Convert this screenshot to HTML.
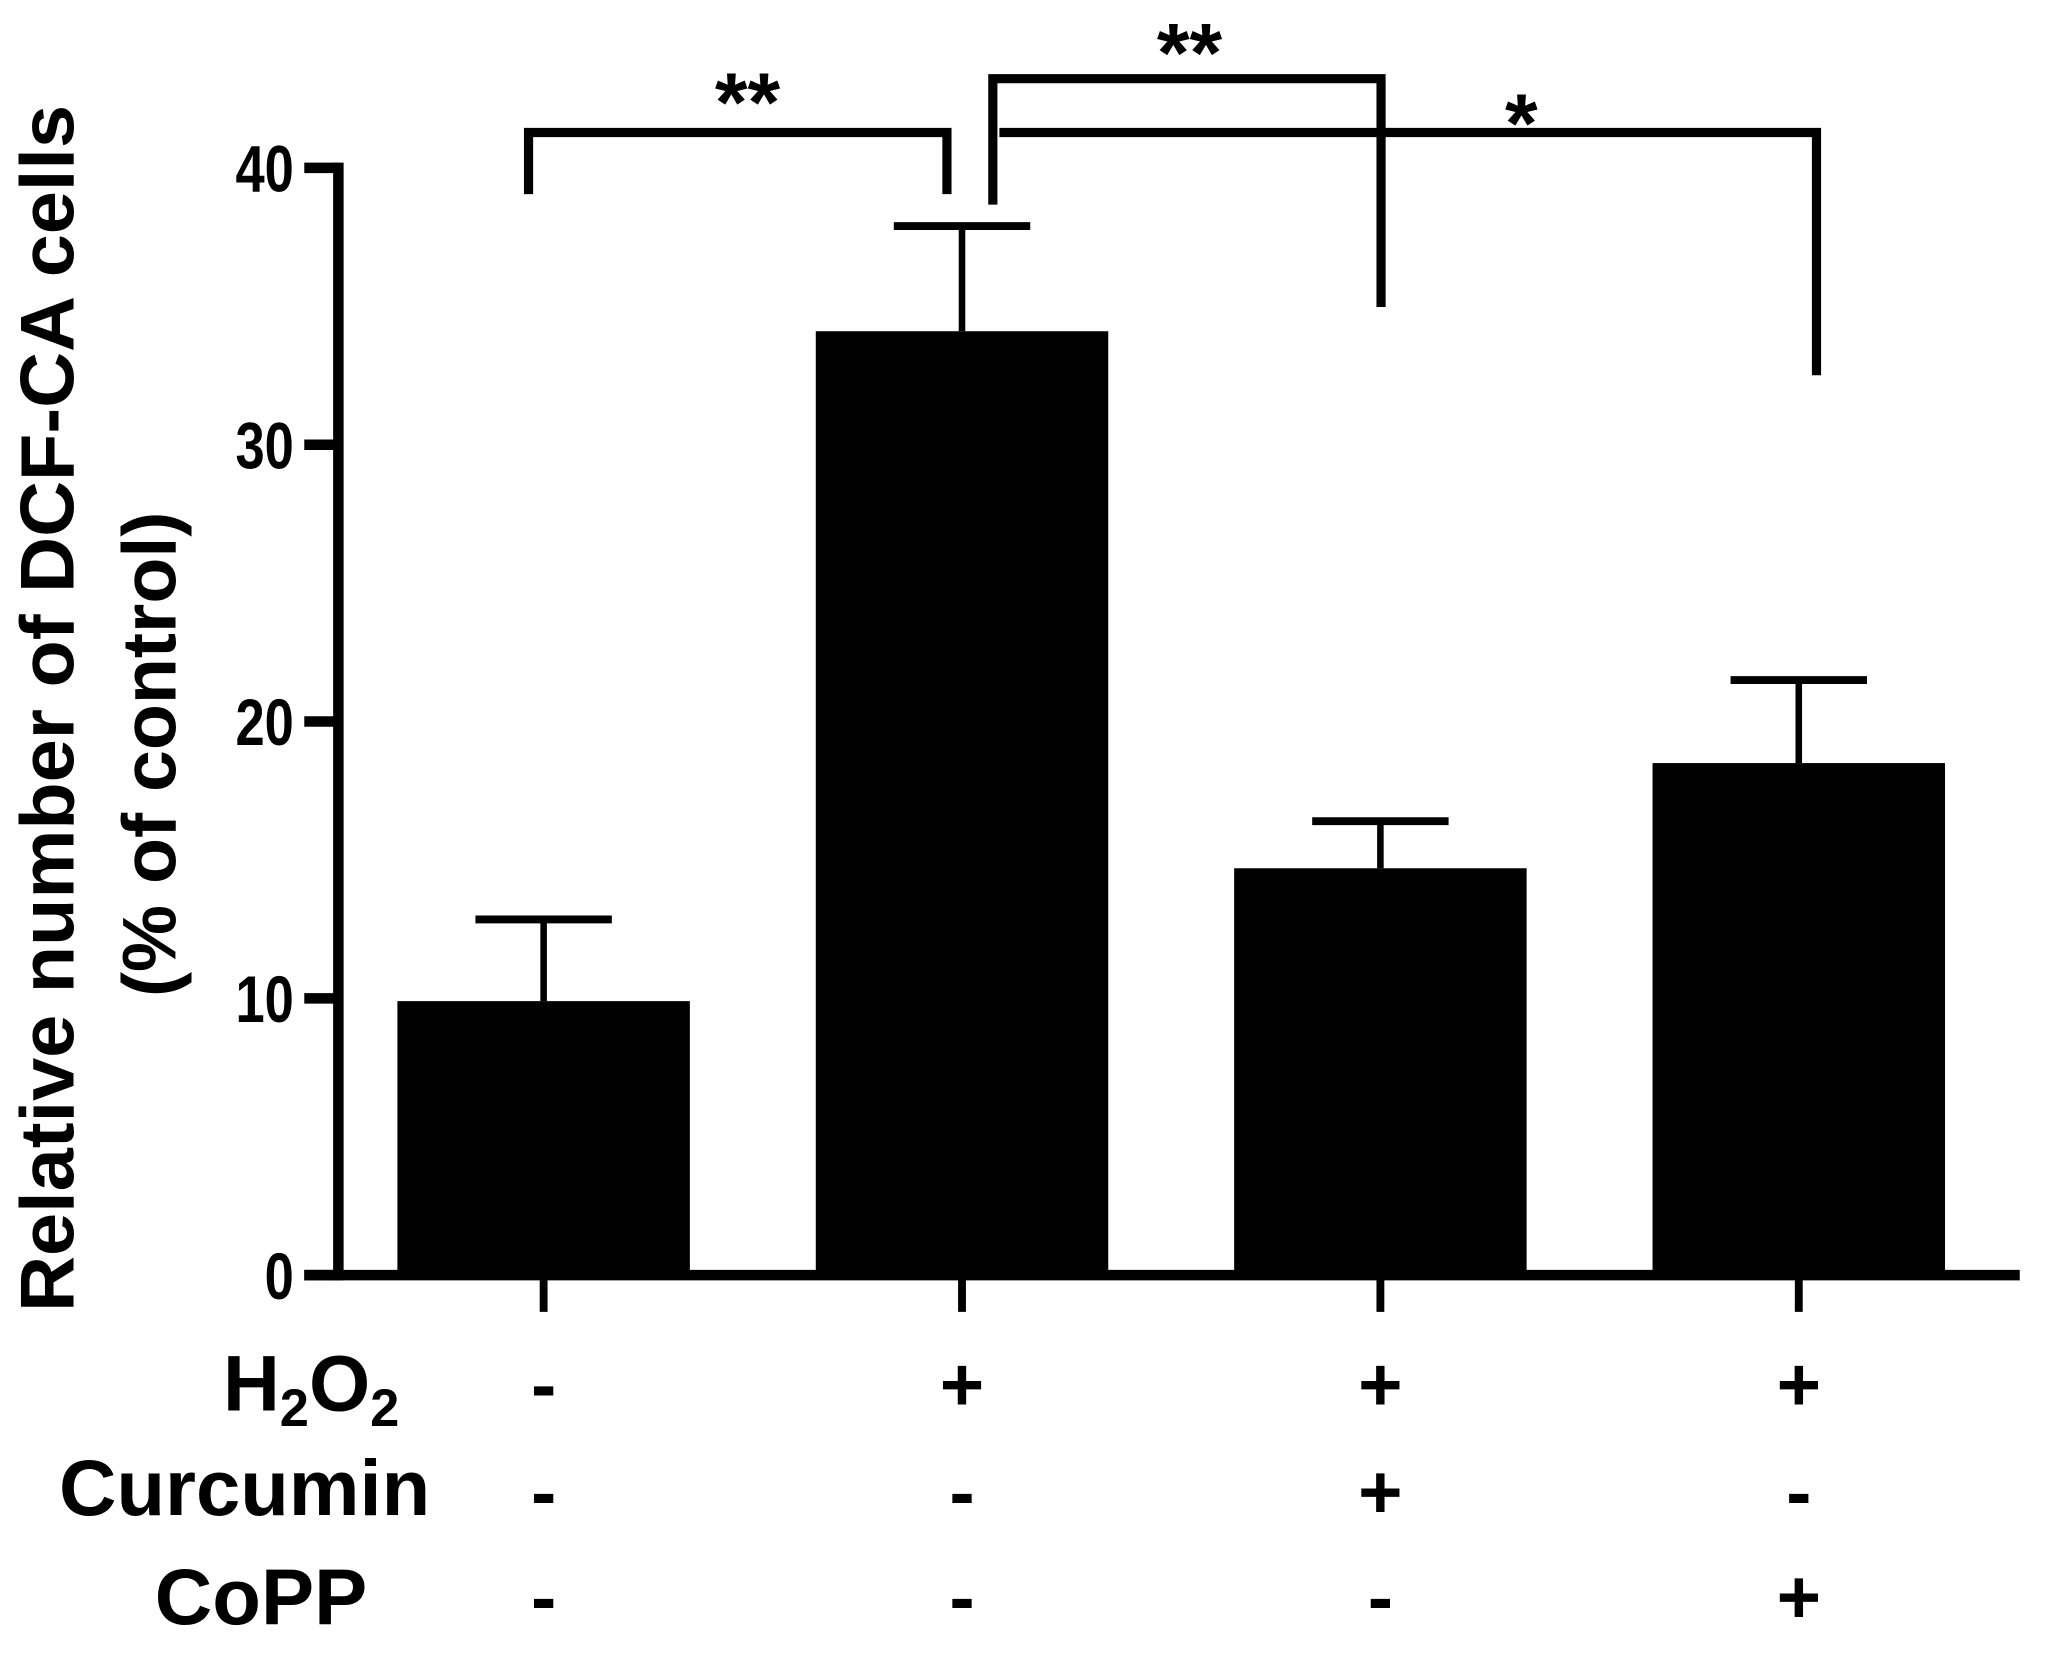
<!DOCTYPE html>
<html><head><meta charset="utf-8"><style>
html,body{margin:0;padding:0;background:#fff;}
svg{display:block;}
text{font-family:"Liberation Sans",Arial,sans-serif;font-weight:bold;fill:#000;}
</style></head><body>
<svg id="chart" width="2046" height="1653" viewBox="0 0 1560 1260" preserveAspectRatio="none" xmlns="http://www.w3.org/2000/svg">
<g id="g"></g>
</svg>
<script>
const categories = ["control", "H2O2", "H2O2+Curcumin", "H2O2+CoPP"];
const values = [9.9, 34.1, 14.7, 18.5];
const errors = [2.95, 3.8, 1.7, 3.0];
const yTicks = [0, 10, 20, 30, 40];
const h2o2 = ["-", "+", "+", "+"];
const curcumin = ["-", "-", "+", "-"];
const copp = ["-", "-", "-", "+"];

const NS = "http://www.w3.org/2000/svg";
const g = document.getElementById("g");
const y0 = 972, pxPer = 21.1;
function yScale(v){ return y0 - v * pxPer; }
const barLeft0 = 303, barStep = 319, barW = 223;
function xBar(i){ return barLeft0 + i * barStep; }
function el(tag, attrs, txt){
  const e = document.createElementNS(NS, tag);
  for (const k in attrs) e.setAttribute(k, attrs[k]);
  if (txt !== undefined) e.textContent = txt;
  g.appendChild(e);
  return e;
}
function line(x1,y1,x2,y2,w){ return el("line",{x1:x1,y1:y1,x2:x2,y2:y2,stroke:"#000","stroke-width":w}); }

let a = line(258, yScale(40)-4, 258, y0+4, 8);


a = line(232, y0, 1540, y0, 8);



yTicks.forEach(function(t){
  const tk = line(232, yScale(t), 258, yScale(t), 8);
  
  
  const lb = el("text",{x:0,y:0,"font-size":50,"text-anchor":"end",transform:"translate(224,"+(yScale(t)+18)+") scale(0.8,1)"}, String(t));
  
  
});

values.forEach(function(v,i){
  const x = xBar(i), cx = x + barW/2, top = yScale(v), et = yScale(v + errors[i]);
  const eb = line(cx, top, cx, et, 5);
  
  
  const cap = line(cx-52, et, cx+52, et, 6);
  
  
  const r = el("rect",{x:x,y:top,width:barW,height:y0-top,fill:"#000"});
  
  
  const xt = line(cx, y0, cx, 1000, 6);
  
  
  [h2o2, curcumin, copp].forEach(function(row, j){
    const s = el("text",{x:cx,y:[1075,1157,1237][j],"font-size":58,"text-anchor":"middle"}, row[i]);
    
    
  });
});

let t = el("text",{x:170,y:1075,"font-size":60}, "");


t.innerHTML = 'H<tspan font-size="40" dy="12">2</tspan><tspan dy="-12">O</tspan><tspan font-size="40" dy="12">2</tspan>';
t = el("text",{x:45,y:1155,"font-size":60,textLength:283,lengthAdjust:"spacingAndGlyphs"}, "Curcumin");


t = el("text",{x:118,y:1238,"font-size":60,textLength:162,lengthAdjust:"spacingAndGlyphs"}, "CoPP");



t = el("text",{x:0,y:0,"font-size":58,"text-anchor":"middle",textLength:920,lengthAdjust:"spacingAndGlyphs",transform:"translate(56,540) rotate(-90)"}, "Relative number of DCF-CA cells");


t = el("text",{x:0,y:0,"font-size":58,"text-anchor":"middle",textLength:370,lengthAdjust:"spacingAndGlyphs",transform:"translate(134,575) rotate(-90)"}, "(% of control)");



function bracket(x1, x2, yTop, l1, l2, label, lx, ly, name){
  const p = el("path",{d:"M"+x1+" "+l1+" V"+yTop+" H"+x2+" V"+l2,fill:"none",stroke:"#000","stroke-width":7});
  
  
  const s = el("text",{x:lx,y:ly,"font-size":64,"text-anchor":"middle"}, label);
  
  
}
bracket(403, 722, 101, 148, 148, "**", 570, 100, "bracket-1");
bracket(757, 1053, 60, 156, 234, "**", 907, 62, "bracket-2");
bracket(762, 1385, 101, 101, 286, "*", 1160, 116, "bracket-3");
</script>
</body></html>
